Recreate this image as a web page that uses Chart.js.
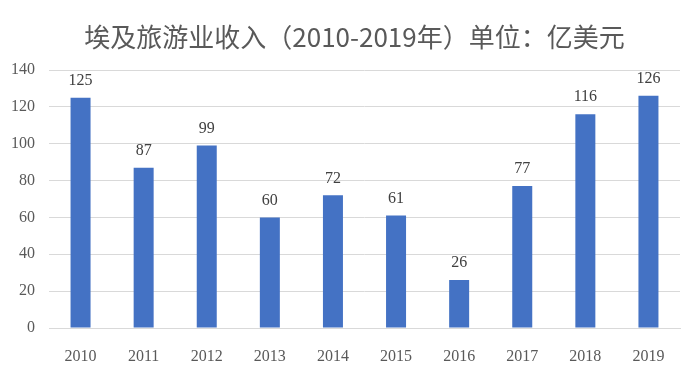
<!DOCTYPE html>
<html>
<head>
<meta charset="utf-8">
<script src="https://cdn.jsdelivr.net/npm/chart.js@4"></script>
<style>
  html, body { margin: 0; padding: 0; background: #fff; }
  #wrap { width: 699px; height: 365px; }
</style>
</head>
<body>
<div id="wrap"><canvas id="incomeChart" width="699" height="365"></canvas></div>
<script>
// 年份与收入（亿美元）
let years = ["2010", "2011", "2012", "2013", "2014", "2015", "2016", "2017", "2018", "2019"];
let income = [125, 87, 99, 60, 72, 61, 26, 77, 116, 126];
let yTicks = [0, 20, 40, 60, 80, 100, 120, 140];
let chartTitle = "埃及旅游业收入（2010-2019年）单位：亿美元";

let serif = "'Liberation Serif', 'DejaVu Serif', serif";

// 标题（居中于整个画布）+ 柱顶数值标签
let valueLabels = {
    id: "valueLabels",
    afterDraw(chart) {
        let ctx = chart.ctx;
        ctx.save();
        ctx.fillStyle = "#595959";
        ctx.font = "26px 'Noto Sans CJK SC', sans-serif";
        ctx.textAlign = "center";
        ctx.textBaseline = "middle";
        ctx.fillText(chartTitle, chart.width / 2 + 5, 37);
        ctx.restore();
    },
    afterDatasetsDraw(chart) {
        let ctx = chart.ctx;
        let meta = chart.getDatasetMeta(0);
        ctx.save();
        ctx.fillStyle = "#404040";
        ctx.font = "16px " + serif;
        ctx.textAlign = "center";
        ctx.textBaseline = "bottom";
        meta.data.forEach((bar, i) => {
            ctx.fillText(String(income[i]), bar.x, bar.y - 9);
        });
        ctx.restore();
    }
};

new Chart(document.getElementById("incomeChart"), {
    type: "bar",
    data: {
        labels: years,
        datasets: [{
            label: "收入",
            data: income,
            backgroundColor: "#4472C4",
            barPercentage: 0.317,
            categoryPercentage: 1
        }]
    },
    options: {
        responsive: false,
        animation: false,
        layout: { padding: { left: 0, right: 19, top: 70, bottom: 0 } },
        plugins: {
            legend: { display: false },
            tooltip: { enabled: false },
            title: { display: false }
        },
        scales: {
            x: {
                grid: { display: false },
                border: { display: true, color: "#d9d9d9", width: 1 },
                ticks: { color: "#595959", font: { family: serif, size: 16 }, padding: 11, maxRotation: 0 },
                afterFit(scale) { scale.height = 37; }
            },
            y: {
                min: 0,
                max: 140,
                grid: { color: "#d9d9d9", drawTicks: false },
                border: { display: false },
                afterBuildTicks(scale) { scale.ticks = yTicks.map(v => ({ value: v })); },
                ticks: { color: "#595959", font: { family: serif, size: 16 }, padding: 14 },
                afterFit(scale) { scale.width = 49; }
            }
        }
    },
    plugins: [valueLabels]
});
</script>
</body>
</html>
